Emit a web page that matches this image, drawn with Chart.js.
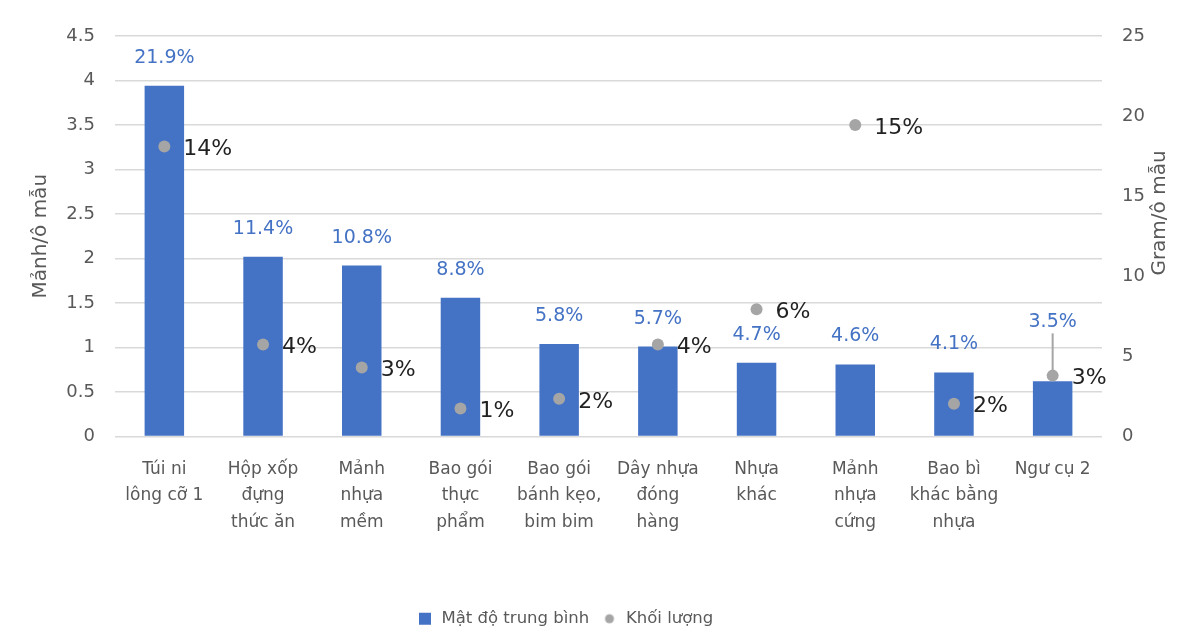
<!DOCTYPE html>
<html>
<head>
<meta charset="utf-8">
<script src="https://cdn.jsdelivr.net/npm/chart.js@4"></script>
<style>
html, body { margin: 0; padding: 0; background: #fff; }
#wrap { width: 1200px; height: 637px; position: relative; }
</style>
</head>
<body>
<div id="wrap"><canvas id="chart1"></canvas></div>
<script>
// categories (multi-line tick labels)
const categories = [
  ["Túi ni", "lông cỡ 1"],
  ["Hộp xốp", "đựng", "thức ăn"],
  ["Mảnh", "nhựa", "mềm"],
  ["Bao gói", "thực", "phẩm"],
  ["Bao gói", "bánh kẹo,", "bim bim"],
  ["Dây nhựa", "đóng", "hàng"],
  ["Nhựa", "khác"],
  ["Mảnh", "nhựa", "cứng"],
  ["Bao bì", "khác bằng", "nhựa"],
  ["Ngư cụ 2"]
];

// Mật độ trung bình (mảnh/ô mẫu) + share labels
const matDo = [3.94, 2.02, 1.92, 1.56, 1.04, 1.01, 0.83, 0.81, 0.72, 0.62];
const matDoPct = ["21.9%", "11.4%", "10.8%", "8.8%", "5.8%", "5.7%", "4.7%", "4.6%", "4.1%", "3.5%"];

// Khối lượng (gram/ô mẫu) + share labels
const khoiLuong = [18.1, 5.75, 4.3, 1.75, 2.35, 5.75, 7.95, 19.45, 2.05, 3.8];
const khoiLuongPct = ["14%", "4%", "3%", "1%", "2%", "4%", "6%", "15%", "2%", "3%"];

const leftMax = 4.5, leftStep = 0.5;
const rightMax = 25, rightStep = 5;

const FONT = "DejaVu Sans";
const GREY_TXT = "#595959";
const BLUE = "#4472C4";
const DOT = "#A5A5A5";

// small dot for the legend (smaller than the square)
let dotImg = document.createElement("canvas");
dotImg.width = 12; dotImg.height = 12;
let dctx = dotImg.getContext("2d");
dctx.fillStyle = DOT;
dctx.beginPath(); dctx.arc(6, 6, 4.5, 0, Math.PI * 2); dctx.fill();

// labels, leader line and the right axis title
const labelPlugin = {
  id: "labelPlugin",
  afterLayout(chart) {
    // legend sits a bit left of centre in the original
    chart.legend.left -= 35;
    chart.legend.right -= 35;
  },
  afterDatasetsDraw(chart, args, opts) {
    const ctx = chart.ctx;
    const bars = chart.getDatasetMeta(0).data;
    const pts = chart.getDatasetMeta(1).data;
    ctx.save();
    ctx.textBaseline = "middle";

    ctx.font = "19px " + FONT;
    ctx.fillStyle = BLUE;
    ctx.textAlign = "center";
    bars.forEach((b, i) => {
      let lift = opts.lift[i] || 28;
      ctx.fillText(matDoPct[i], b.x, b.y - lift);
      if (opts.lift[i]) {
        // leader line like in Excel
        ctx.strokeStyle = DOT;
        ctx.lineWidth = 2;
        ctx.beginPath();
        ctx.moveTo(b.x, b.y - lift + 11);
        ctx.lineTo(pts[i].x, pts[i].y);
        ctx.stroke();
      }
    });

    ctx.font = "22px " + FONT;
    ctx.fillStyle = "#222";
    ctx.textAlign = "left";
    pts.forEach((p, i) => {
      ctx.fillText(khoiLuongPct[i], p.x + 19, p.y + 3);
    });
    ctx.restore();
  },
  afterDraw(chart) {
    const ctx = chart.ctx;
    ctx.save();
    ctx.translate(1160, 213);
    ctx.rotate(-Math.PI / 2);
    ctx.font = "20px " + FONT;
    ctx.fillStyle = GREY_TXT;
    ctx.textAlign = "center";
    ctx.textBaseline = "middle";
    ctx.fillText("Gram/ô mẫu", 0, 0);
    ctx.restore();
  }
};

let canvas1 = document.getElementById("chart1");
let myChart1 = new Chart(canvas1, {
  type: "bar",
  data: {
    labels: categories,
    datasets: [{
      label: "Mật độ trung bình",
      data: matDo,
      backgroundColor: BLUE,
      barPercentage: 0.4,
      categoryPercentage: 1,
      yAxisID: "y",
      order: 2
    },
    {
      type: "line",
      label: "Khối lượng",
      data: khoiLuong,
      showLine: false,
      pointRadius: 6,
      pointBackgroundColor: DOT,
      pointBorderWidth: 0,
      backgroundColor: DOT,
      borderColor: DOT,
      yAxisID: "y1",
      order: 1
    }]
  },
  options: {
    responsive: true,
    maintainAspectRatio: false,
    animation: false,
    devicePixelRatio: 1,
    layout: { padding: { top: 36, left: 0, right: 0, bottom: 0 } },
    plugins: {
      tooltip: { enabled: false },
      legend: {
        position: "bottom",
        labels: {
          usePointStyle: true,
          boxHeight: 12,
          padding: 12,
          color: GREY_TXT,
          font: { family: FONT, size: 16.5 },
          sort: (a, b) => a.datasetIndex - b.datasetIndex,
          generateLabels(chart) {
            let items = Chart.defaults.plugins.legend.labels.generateLabels(chart);
            items.forEach(it => {
              if (it.datasetIndex === 0) { it.pointStyle = "rect"; it.fillStyle = BLUE; it.strokeStyle = BLUE; }
              else { it.pointStyle = dotImg; }
            });
            return items;
          }
        }
      },
      labelPlugin: { lift: { 9: 59 } }
    },
    scales: {
      x: {
        grid: { display: false },
        border: { display: false },
        ticks: {
          color: GREY_TXT,
          font: { family: FONT, size: 17, lineHeight: 1.55 },
          maxRotation: 0,
          autoSkip: false,
          padding: 12
        },
        afterFit(scale) { scale.height = 162; }
      },
      y: {
        position: "left",
        min: 0,
        max: leftMax,
        ticks: {
          stepSize: leftStep,
          color: GREY_TXT,
          padding: 20,
          font: { family: FONT, size: 18 },
          callback: v => String(v)
        },
        grid: { color: "#D9D9D9", lineWidth: 1.5, tickLength: 0 },
        border: { display: false },
        title: {
          display: true,
          text: "Mảnh/ô mẫu",
          color: GREY_TXT,
          font: { family: FONT, size: 20 },
          padding: { top: 29, bottom: 0 }
        },
        afterFit(scale) { scale.width = 115; }
      },
      y1: {
        position: "right",
        min: 0,
        max: rightMax,
        ticks: {
          stepSize: rightStep,
          color: GREY_TXT,
          padding: 20,
          font: { family: FONT, size: 18 }
        },
        grid: { drawOnChartArea: false, tickLength: 0 },
        border: { display: false },
        afterFit(scale) { scale.width = 98; }
      }
    }
  },
  plugins: [labelPlugin]
});
</script>
</body>
</html>
